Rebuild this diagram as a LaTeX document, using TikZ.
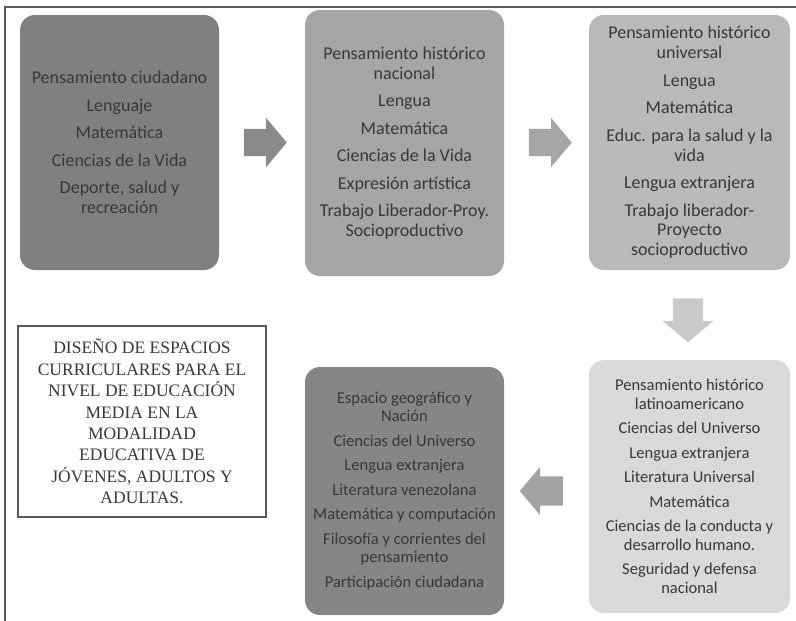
\documentclass[tikz,border=0pt]{standalone}
\usepackage{fontspec}
\setmainfont{Carlito}
\newfontfamily\titlefont{Liberation Serif}
\usetikzlibrary{shapes.arrows}
\definecolor{boxone}{HTML}{808080}
\definecolor{boxtwo}{HTML}{A5A5A5}
\definecolor{boxthree}{HTML}{B9B9B9}
\definecolor{boxfour}{HTML}{D9D9D9}
\definecolor{boxfive}{HTML}{868686}
\definecolor{arrone}{HTML}{8A8A8A}
\definecolor{arrtwo}{HTML}{A6A6A6}
\definecolor{arrthree}{HTML}{C9C9C9}
\definecolor{arrfour}{HTML}{A3A3A3}
\definecolor{txt}{HTML}{383838}
\definecolor{framecol}{HTML}{5A5A5A}
\begin{document}
\begin{tikzpicture}[x=1pt,y=-1pt,
  stage/.style={rounded corners=15pt, draw=none, align=center, text=txt, inner sep=0pt},
  topfont/.style={font=\fontsize{18pt}{19.8pt}\selectfont},
  botfont/.style={font=\fontsize{16.5pt}{18.5pt}\selectfont},
  blockarrow/.style={single arrow, draw=none, inner xsep=0pt, inner ysep=13.5pt,
     single arrow head indent=0pt, single arrow head extend=11pt,
     single arrow tip angle=100, minimum height=43pt, minimum width=0pt},
  titlebox/.style={draw=framecol, line width=1.3pt, fill=white, align=center,
     text=txt, inner sep=0pt, font=\titlefont\fontsize{17.5pt}{21.4pt}\selectfont}
]
\useasboundingbox (0,0) rectangle (796,621);
\fill[white] (0,0) rectangle (796,621);
\draw[framecol, line width=1.5pt] (796,7) -- (5,7) -- (5,621);

\node[stage, topfont, fill=boxone, minimum width=199pt, minimum height=255pt] (b1) at (119.5,142.5)
 {Pensamiento ciudadano\\[7.7pt] Lenguaje\\[7.7pt] Matemática\\[7.7pt] Ciencias de la Vida\\[7.7pt] Deporte, salud y\\ recreación};

\node[stage, topfont, fill=boxtwo, minimum width=199pt, minimum height=266pt] (b2) at (404.5,143)
 {Pensamiento histórico\\ nacional\\[7.7pt] Lengua\\[7.7pt] Matemática\\[7.7pt] Ciencias de la Vida\\[7.7pt] Expresión artística\\[7.7pt] Trabajo Liberador-Proy.\\ Socioproductivo};

\node[stage, topfont, fill=boxthree, minimum width=201pt, minimum height=255pt] (b3) at (689.5,142.5)
 {Pensamiento histórico\\ universal\\[7.7pt] Lengua\\[7.7pt] Matemática\\[7.7pt] Educ. para la salud y la\\ vida\\[7.7pt] Lengua extranjera\\[7.7pt] Trabajo liberador-\\ Proyecto\\ socioproductivo};

\node[stage, botfont, fill=boxfour, minimum width=201pt, minimum height=253pt] (b4) at (689.5,486.5)
 {Pensamiento histórico\\ latinoamericano\\[6pt] Ciencias del Universo\\[6pt] Lengua extranjera\\[6pt] Literatura Universal\\[6pt] Matemática\\[6pt] Ciencias de la conducta y\\ desarrollo humano.\\[6pt] Seguridad y defensa\\ nacional};

\node[stage, botfont, fill=boxfive, minimum width=199pt, minimum height=248pt] (b5) at (404.5,491)
 {Espacio geográfico y\\ Nación\\[6pt] Ciencias del Universo\\[6pt] Lengua extranjera\\[6pt] Literatura venezolana\\[6pt] Matemática y computación\\[6pt] Filosofía y corrientes del\\ pensamiento\\[6pt] Participación ciudadana};

\node[titlebox, minimum width=248pt, minimum height=191pt] (title) at (142,421.5)
 {DISEÑO DE ESPACIOS\\ CURRICULARES PARA EL\\ NIVEL DE EDUCACIÓN\\ MEDIA EN LA\\ MODALIDAD\\ EDUCATIVA DE\\ JÓVENES, ADULTOS Y\\ ADULTAS.};

\node[blockarrow, fill=arrone] (a1) at (259.5,142.5) {};
\node[blockarrow, fill=arrtwo] (a2) at (544.5,142.5) {};
\node[blockarrow, fill=arrthree, rotate=-90, inner ysep=15pt, single arrow head extend=10pt, minimum height=44pt] (a3) at (688,314) {};
\node[blockarrow, fill=arrfour, rotate=180, inner ysep=14.5pt, single arrow head extend=9.5pt, minimum height=43pt] (a4) at (547.5,491) {};
\end{tikzpicture}
\end{document}
